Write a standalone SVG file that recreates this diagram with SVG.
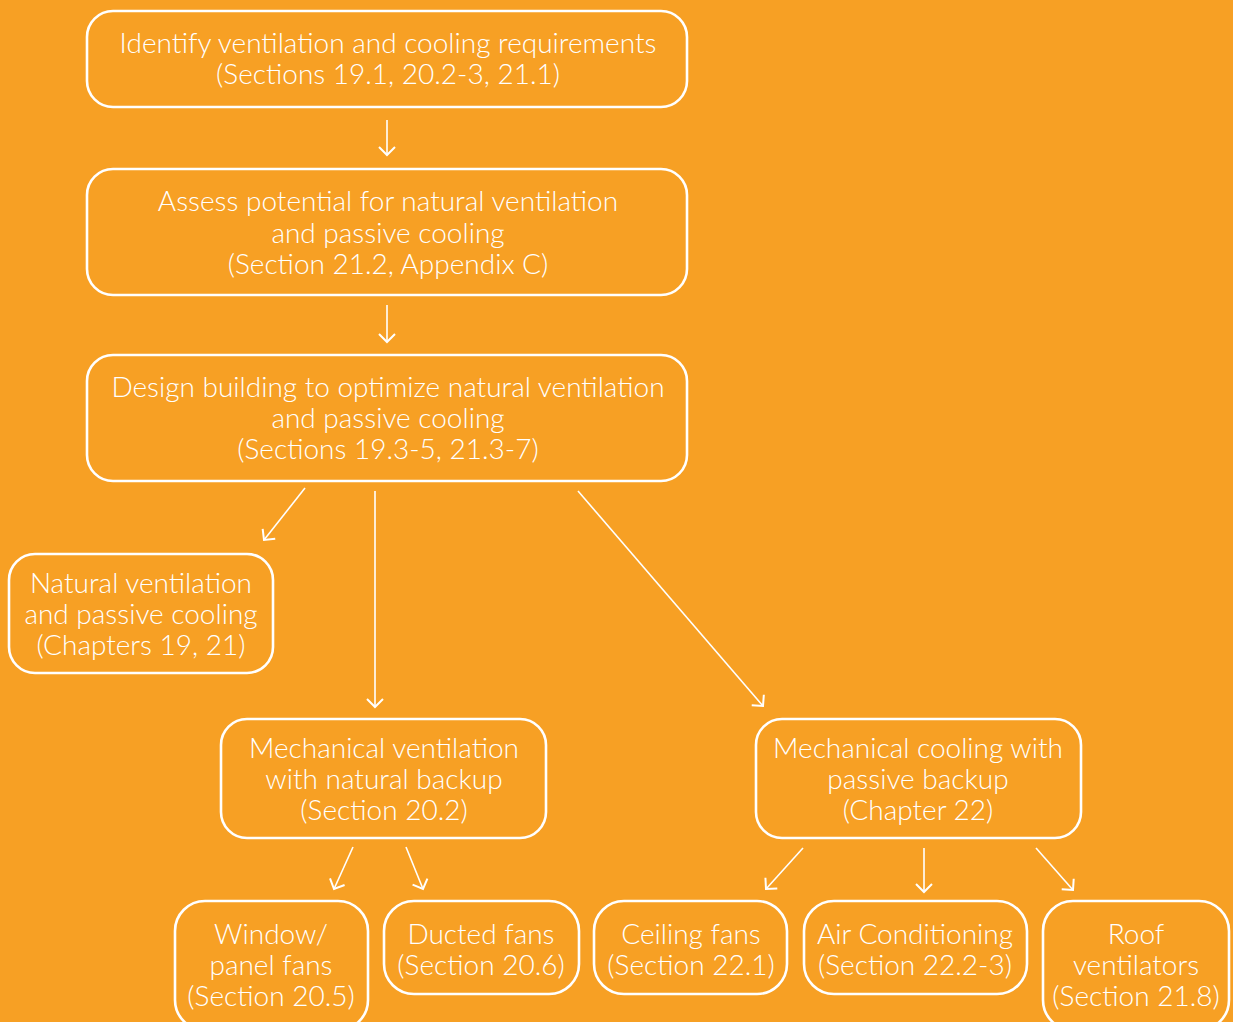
<svg xmlns="http://www.w3.org/2000/svg" width="1233" height="1022" viewBox="0 0 1233 1022">
  <defs>
    <style>
      .box { fill: none; stroke: #ffffff; stroke-width: 2.6; }
      .lbl { fill: #ffffff; font-family: Lato, "Open Sans", "DejaVu Sans", sans-serif; font-weight: 300; font-size: 28px; text-anchor: middle; }
      .conn { stroke: #ffffff; stroke-width: 1.6; fill: none; marker-end: url(#chev); }
    </style>
    <marker id="chev" viewBox="0 0 20 20" refX="10" refY="10" markerWidth="20" markerHeight="20" markerUnits="userSpaceOnUse" orient="auto">
      <path d="M2 2 L10 10 L2 18" fill="none" stroke="#ffffff" stroke-width="2"/>
    </marker>
  </defs>
  <rect width="1233" height="1022" fill="#F7A024"/>

  <g id="connectors">
    <line class="conn" x1="387" y1="120" x2="387" y2="155"/>
    <line class="conn" x1="387" y1="305" x2="387" y2="342"/>
    <line class="conn" x1="305" y1="488" x2="264" y2="540"/>
    <line class="conn" x1="375" y1="491" x2="375" y2="707"/>
    <line class="conn" x1="578" y1="491" x2="763" y2="706"/>
    <line class="conn" x1="353" y1="847" x2="334" y2="889"/>
    <line class="conn" x1="406" y1="847" x2="423" y2="889"/>
    <line class="conn" x1="803" y1="848" x2="766" y2="889"/>
    <line class="conn" x1="924" y1="848" x2="924" y2="892"/>
    <line class="conn" x1="1036" y1="848" x2="1073" y2="890"/>
  </g>

  <g id="identify">
    <rect class="box" x="87" y="11" width="600" height="96" rx="26"/>
    <text class="lbl" x="388" y="53">Identify ventilation and cooling requirements</text>
    <text class="lbl" x="388" y="84">(Sections 19.1, 20.2-3, 21.1)</text>
  </g>
  <g id="assess">
    <rect class="box" x="87" y="169" width="600" height="126" rx="26"/>
    <text class="lbl" x="388" y="211">Assess potential for natural ventilation</text>
    <text class="lbl" x="388" y="243">and passive cooling</text>
    <text class="lbl" x="388" y="274">(Section 21.2, Appendix C)</text>
  </g>
  <g id="design">
    <rect class="box" x="87" y="355" width="600" height="126" rx="26"/>
    <text class="lbl" x="388" y="397">Design building to optimize natural ventilation</text>
    <text class="lbl" x="388" y="428">and passive cooling</text>
    <text class="lbl" x="388" y="459">(Sections 19.3-5, 21.3-7)</text>
  </g>
  <g id="natural">
    <rect class="box" x="9" y="554" width="264" height="119" rx="26"/>
    <text class="lbl" x="141" y="593">Natural ventilation</text>
    <text class="lbl" x="141" y="624">and passive cooling</text>
    <text class="lbl" x="141" y="655">(Chapters 19, 21)</text>
  </g>
  <g id="mech-vent">
    <rect class="box" x="221" y="719" width="325" height="119" rx="26"/>
    <text class="lbl" x="384" y="758">Mechanical ventilation</text>
    <text class="lbl" x="384" y="789">with natural backup</text>
    <text class="lbl" x="384" y="820">(Section 20.2)</text>
  </g>
  <g id="mech-cool">
    <rect class="box" x="756" y="719" width="325" height="119" rx="26"/>
    <text class="lbl" x="918" y="758">Mechanical cooling with</text>
    <text class="lbl" x="918" y="789">passive backup</text>
    <text class="lbl" x="918" y="820">(Chapter 22)</text>
  </g>
  <g id="window-fans">
    <rect class="box" x="175" y="901" width="193" height="129" rx="30"/>
    <text class="lbl" x="271" y="944">Window/</text>
    <text class="lbl" x="271" y="975">panel fans</text>
    <text class="lbl" x="271" y="1006">(Section 20.5)</text>
  </g>
  <g id="ducted-fans">
    <rect class="box" x="384" y="901" width="195" height="93" rx="30"/>
    <text class="lbl" x="481" y="944">Ducted fans</text>
    <text class="lbl" x="481" y="975">(Section 20.6)</text>
  </g>
  <g id="ceiling-fans">
    <rect class="box" x="594" y="901" width="193" height="93" rx="30"/>
    <text class="lbl" x="691" y="944">Ceiling fans</text>
    <text class="lbl" x="691" y="975">(Section 22.1)</text>
  </g>
  <g id="air-conditioning">
    <rect class="box" x="804" y="901" width="223" height="93" rx="30"/>
    <text class="lbl" x="915" y="944">Air Conditioning</text>
    <text class="lbl" x="915" y="975">(Section 22.2-3)</text>
  </g>
  <g id="roof-ventilators">
    <rect class="box" x="1043" y="901" width="186" height="129" rx="30"/>
    <text class="lbl" x="1136" y="944">Roof</text>
    <text class="lbl" x="1136" y="975">ventilators</text>
    <text class="lbl" x="1136" y="1006">(Section 21.8)</text>
  </g>
</svg>
